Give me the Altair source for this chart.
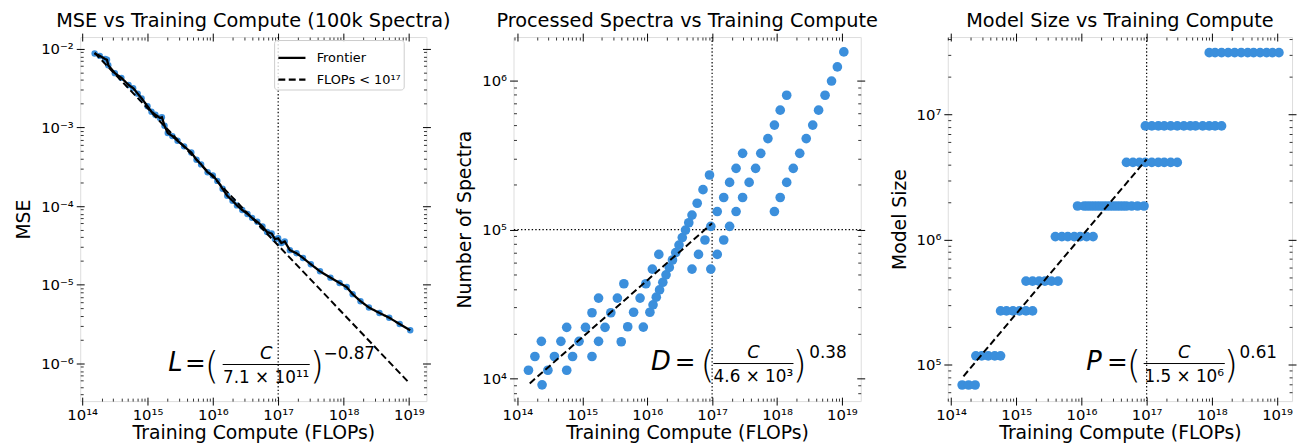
import math
import altair as alt
import pandas as pd

FONT = "DejaVu Sans"
BLUE = "#3b8fdc"

# ---------------- Panel 1: MSE frontier (100k spectra) ----------------
mse_compute = [1.55e14, 1.86e14, 2.24e14, 2.40e14, 2.51e14, 3.16e14, 3.98e14, 5.13e14, 6.03e14, 7.08e14,
               8.13e14, 1.00e15, 1.15e15, 1.32e15, 1.55e15, 1.66e15, 1.82e15, 2.04e15, 2.40e15, 2.88e15,
               3.63e15, 4.68e15, 5.62e15, 6.61e15, 8.32e15, 1.00e16, 1.17e16, 1.41e16, 1.66e16, 2.00e16,
               2.34e16, 2.82e16, 3.39e16, 3.98e16, 4.79e16, 5.75e16, 6.76e16, 7.94e16, 8.91e16, 1.00e17,
               1.12e17, 1.26e17, 1.51e17, 1.91e17, 2.40e17, 3.16e17, 4.37e17, 6.31e17, 8.71e17, 1.12e18,
               1.38e18, 1.82e18, 2.45e18, 3.55e18, 5.01e18, 7.24e18, 1.05e19]
mse_values = [8.71e-3, 8.13e-3, 7.41e-3, 7.24e-3, 6.17e-3, 4.90e-3, 4.27e-3, 3.47e-3, 3.16e-3, 2.69e-3,
              2.34e-3, 1.86e-3, 1.58e-3, 1.45e-3, 1.32e-3, 1.35e-3, 1.05e-3, 8.51e-4, 7.76e-4, 6.76e-4,
              5.75e-4, 4.79e-4, 3.89e-4, 3.39e-4, 2.69e-4, 2.45e-4, 2.09e-4, 1.66e-4, 1.35e-4, 1.17e-4,
              1.02e-4, 8.91e-5, 7.94e-5, 7.08e-5, 6.31e-5, 5.50e-5, 4.68e-5, 4.47e-5, 3.80e-5, 3.89e-5,
              3.39e-5, 3.55e-5, 2.75e-5, 2.51e-5, 2.19e-5, 1.82e-5, 1.48e-5, 1.23e-5, 1.05e-5, 9.33e-6,
              7.59e-6, 6.17e-6, 5.13e-6, 4.37e-6, 3.80e-6, 3.16e-6, 2.63e-6]
mse_fit_compute = [1.55e14, 1.0e19]
mse_fit_values = [8.9e-3, 5.7e-7]

# ---------------- Panels 2 & 3: training runs ----------------
model_sizes = [6.9e4, 1.18e5, 2.7e5, 4.67e5, 1.06e6, 1.86e6, 4.15e6, 8.13e6, 3.13e7]
run_compute = [
    [1.48e14, 1.86e14, 2.34e14],
    [2.40e14, 2.95e14, 3.72e14, 4.68e14, 5.75e14],
    [5.75e14, 7.08e14, 8.91e14, 1.12e15, 1.41e15, 1.78e15],
    [1.41e15, 1.78e15, 2.24e15, 2.75e15, 3.47e15, 4.37e15],
    [3.98e15, 5.01e15, 6.17e15, 7.76e15, 9.55e15, 1.20e16, 1.51e16],
    [8.71e15, 1.10e16, 1.23e16, 1.38e16, 1.55e16, 1.74e16, 1.95e16, 2.19e16, 2.45e16, 2.75e16,
     3.09e16, 3.47e16, 3.89e16, 4.37e16, 4.90e16, 5.89e16, 7.24e16, 9.12e16],
    [4.90e16, 6.17e16, 7.76e16, 9.55e16, 1.20e17, 1.51e17, 1.86e17, 2.34e17, 2.95e17],
    [9.55e16, 1.20e17, 1.51e17, 1.86e17, 2.34e17, 2.95e17, 3.72e17, 4.68e17, 5.62e17, 7.24e17,
     9.12e17, 1.12e18, 1.41e18],
    [9.12e17, 1.12e18, 1.41e18, 1.78e18, 2.24e18, 2.82e18, 3.55e18, 4.37e18, 5.50e18, 6.92e18,
     8.51e18, 1.07e19],
]
run_spectra = [
    [1.14e4, 1.41e4, 1.78e4],
    [9.1e3, 1.14e4, 1.41e4, 1.78e4, 2.21e4],
    [1.14e4, 1.41e4, 1.78e4, 2.21e4, 2.77e4, 3.47e4],
    [1.41e4, 1.78e4, 2.21e4, 2.77e4, 3.47e4, 4.33e4],
    [1.77e4, 2.23e4, 2.79e4, 3.47e4, 4.33e4, 5.43e4, 6.81e4],
    [2.22e4, 2.79e4, 3.13e4, 3.52e4, 3.94e4, 4.43e4, 4.97e4, 5.57e4, 6.25e4, 7.01e4,
     7.87e4, 8.83e4, 9.91e4, 1.11e5, 1.25e5, 1.50e5, 1.85e5, 2.32e5],
    [5.43e4, 6.81e4, 8.51e4, 1.05e5, 1.32e5, 1.64e5, 2.07e5, 2.57e5, 3.24e5],
    [5.43e4, 6.81e4, 8.51e4, 1.05e5, 1.32e5, 1.64e5, 2.07e5, 2.57e5, 3.24e5, 4.07e5,
     5.01e5, 6.31e5, 7.94e5],
    [1.32e5, 1.64e5, 2.07e5, 2.57e5, 3.24e5, 4.07e5, 5.01e5, 6.31e5, 7.94e5, 9.89e5,
     1.23e6, 1.55e6],
]
spectra_fit_compute = [1.55e14, 1.0e17]
spectra_fit_values = [9.3e3, 1.1e5]
params_fit_compute = [1.55e14, 1.0e17]
params_fit_values = [8.1e4, 4.4e6]

COMPUTE_CUT = 1e17
SPECTRA_REF = 1e5

# axis ranges
p1_xdom, p1_ydom = [9.33e13, 1.86e19], [3.31e-7, 1.41e-2]
p2_xdom, p2_ydom = [8.71e13, 1.95e19], [7.08e3, 1.95e6]
p3_xdom, p3_ydom = [8.91e13, 1.70e19], [5.13e4, 4.17e7]

# ---------------- tables ----------------
mse_df = pd.DataFrame({"compute": mse_compute, "value": mse_values, "series": "Frontier"})
mse_fit_df = pd.DataFrame({"compute": mse_fit_compute, "value": mse_fit_values, "series": "FLOPs < 10¹⁷"})
rows = []
for p, cs, ds in zip(model_sizes, run_compute, run_spectra):
    for c, d in zip(cs, ds):
        rows.append({"compute": c, "spectra": d, "params": p})
runs_df = pd.DataFrame(rows)
spectra_fit_df = pd.DataFrame({"compute": spectra_fit_compute, "value": spectra_fit_values})
params_fit_df = pd.DataFrame({"compute": params_fit_compute, "value": params_fit_values})
cut_df = pd.DataFrame({"c": [COMPUTE_CUT]})
ref_df = pd.DataFrame({"d": [SPECTRA_REF]})
one_df = pd.DataFrame({"k": [0]})

SUP = str.maketrans("0123456789-", "⁰¹²³⁴⁵⁶⁷⁸⁹⁻")
DOTS = [1.4, 2.2]


def log_ticks(dom):
    lo, hi = dom
    majors, minors = [], []
    for k in range(-12, 25):
        b = 10.0 ** k
        if lo <= b <= hi:
            majors.append(b)
        for m in range(2, 10):
            v = m * b
            if lo <= v <= hi:
                minors.append(v)
    return majors, minors


def label_expr(majors):
    exps = [round(math.log10(v)) for v in majors]
    arr = "[" + ",".join("'10%s'" % str(e).translate(SUP) for e in exps) + "]"
    return f"{arr}[round(log(datum.value)/LN10) - ({exps[0]})]"


def major_axis(orient, majors, labels, title=None):
    kw = dict(orient=orient, values=majors, labels=labels, ticks=True, tickSize=8, offset=-4,
              tickColor="black", tickWidth=1, domain=False, grid=False, title=title)
    if labels:
        kw.update(labelExpr=label_expr(majors), labelFont=FONT, labelFontSize=15, labelColor="black",
                  labelPadding=3, labelFlush=False, labelOverlap=False)
    if title:
        kw.update(titleFont=FONT, titleFontSize=19, titleFontWeight="normal", titleColor="black",
                  titlePadding=1 if orient == "bottom" else 7)
    return alt.Axis(**kw)


def minor_axis(orient, minors):
    return alt.Axis(orient=orient, values=minors, labels=False, ticks=True, tickSize=3, offset=-3,
                    tickColor="black", tickWidth=0.8, domain=False, grid=False, title=None)


def formula(lhs, denom, expo, pos):
    lx, ex, lp, f1, f2, rp, xx, base = pos

    def txt(s, x, y, size, italic=False, align="left", weight="normal"):
        return alt.Chart(one_df).mark_text(
            text=s, font=FONT, fontSize=size, fontStyle="italic" if italic else "normal",
            fontWeight=weight, align=align, baseline="alphabetic", color="black").encode(
            x=alt.value(x), y=alt.value(y))

    fc = (f1 + f2) / 2
    return [
        txt(lhs, lx, base, 26, italic=True),
        txt("=", ex, base, 25),
        txt("(", lp, base + 7, 37, weight=200),
        txt(")", rp, base + 7, 37, weight=200),
        txt("C", fc, base - 13, 18, italic=True, align="center"),
        txt(denom, fc, base + 12, 17, align="center"),
        txt(expo, xx, base - 13, 17),
        alt.Chart(one_df).mark_rule(color="black", strokeWidth=1).encode(
            x=alt.value(f1), x2=alt.value(f2), y=alt.value(base - 7)),
    ]


def panel(title, xdom, ydom, ytitle, build, width, height=368):
    xs = alt.Scale(type="log", domain=xdom, nice=False)
    ys = alt.Scale(type="log", domain=ydom, nice=False)
    xmaj, xmin = log_ticks(xdom)
    ymaj, ymin = log_ticks(ydom)
    frame = pd.DataFrame({"x": xdom, "y": ydom})

    def axis_layer(xa, ya):
        return alt.Chart(frame).mark_point(opacity=0).encode(
            x=alt.X("x:Q", scale=xs, axis=xa), y=alt.Y("y:Q", scale=ys, axis=ya))

    axes = [
        axis_layer(major_axis("bottom", xmaj, True, "Training Compute (FLOPs)"),
                   major_axis("left", ymaj, True, ytitle)),
        axis_layer(minor_axis("bottom", xmin), minor_axis("left", ymin)),
        axis_layer(major_axis("top", xmaj, False), major_axis("right", ymaj, False)),
        axis_layer(minor_axis("top", xmin), minor_axis("right", ymin)),
    ]
    layers = build(xs, ys)
    return alt.layer(*axes, *layers).resolve_axis(x="independent", y="independent").properties(
        width=width, height=height,
        title=alt.TitleParams(title, font=FONT, fontSize=19.5, fontWeight="normal", color="black",
                              offset=1, anchor="middle"))


def X(field, xs):
    return alt.X(field, scale=xs, axis=None)


def Y(field, ys):
    return alt.Y(field, scale=ys, axis=None)


def vline(xs):
    return alt.Chart(cut_df).mark_rule(color="black", strokeWidth=1.2, strokeDash=DOTS).encode(
        x=X("c:Q", xs))


dash_scale = alt.Scale(domain=["Frontier", "FLOPs < 10¹⁷"], range=[[1, 0], [7, 3.5]])
dash_legend = alt.Legend(title=None, orient="none", legendX=196, legendY=3, symbolType="stroke",
                         symbolSize=750, symbolStrokeWidth=2.2, symbolStrokeColor="black",
                         labelFont=FONT, labelFontSize=13, labelColor="black", labelOffset=10,
                         fillColor="rgba(255,255,255,0.8)", strokeColor="#cccccc", padding=3,
                         cornerRadius=3, rowPadding=-2)


def build1(xs, ys):
    return [
        vline(xs),
        alt.Chart(mse_df).mark_circle(size=42, color=BLUE, opacity=1).encode(
            x=X("compute:Q", xs), y=Y("value:Q", ys)),
        alt.Chart(mse_fit_df).mark_line(color="black", strokeWidth=2).encode(
            x=X("compute:Q", xs), y=Y("value:Q", ys),
            strokeDash=alt.StrokeDash("series:N", scale=dash_scale, legend=dash_legend)),
        alt.Chart(mse_df).mark_line(color="black", strokeWidth=2.3).encode(
            x=X("compute:Q", xs), y=Y("value:Q", ys),
            strokeDash=alt.StrokeDash("series:N", scale=dash_scale, legend=dash_legend)),
    ] + formula("L", "7.1 × 10¹¹", "−0.87", (89, 106, 126, 144, 232, 232, 246, 338))


def build2(xs, ys):
    return [
        vline(xs),
        alt.Chart(ref_df).mark_rule(color="black", strokeWidth=1.2, strokeDash=DOTS).encode(
            y=Y("d:Q", ys)),
        alt.Chart(runs_df).mark_circle(size=95, color=BLUE, opacity=1).encode(
            x=X("compute:Q", xs), y=Y("spectra:Q", ys)),
        alt.Chart(spectra_fit_df).mark_line(color="black", strokeWidth=2, strokeDash=[7, 3.5]).encode(
            x=X("compute:Q", xs), y=Y("value:Q", ys)),
    ] + formula("D", "4.6 × 10³", "0.38", (139, 163, 189, 202, 283, 282, 299, 337))


def build3(xs, ys):
    return [
        vline(xs),
        alt.Chart(runs_df).mark_circle(size=95, color=BLUE, opacity=1).encode(
            x=X("compute:Q", xs), y=Y("params:Q", ys)),
        alt.Chart(params_fit_df).mark_line(color="black", strokeWidth=2, strokeDash=[7, 3.5]).encode(
            x=X("compute:Q", xs), y=Y("value:Q", ys)),
    ] + formula("P", "1.5 × 10⁶", "0.61", (140, 161, 181, 198, 280, 279, 295, 337))


p1 = panel("MSE vs Training Compute (100k Spectra)", p1_xdom, p1_ydom, "MSE", build1, 350)
p2 = panel("Processed Spectra vs Training Compute", p2_xdom, p2_ydom, "Number of Spectra", build2, 351)
p3 = panel("Model Size vs Training Compute", p3_xdom, p3_ydom, "Model Size", build3, 348)

chart = alt.hconcat(p1, p2, p3, spacing=88, bounds="flush").configure_view(
    stroke="black", strokeWidth=1.2).configure(
    padding={"left": 6, "top": 0, "right": 0, "bottom": 0}, font=FONT, background="white")

chart.save("out.html", embed_options={"renderer": "svg", "actions": False})
